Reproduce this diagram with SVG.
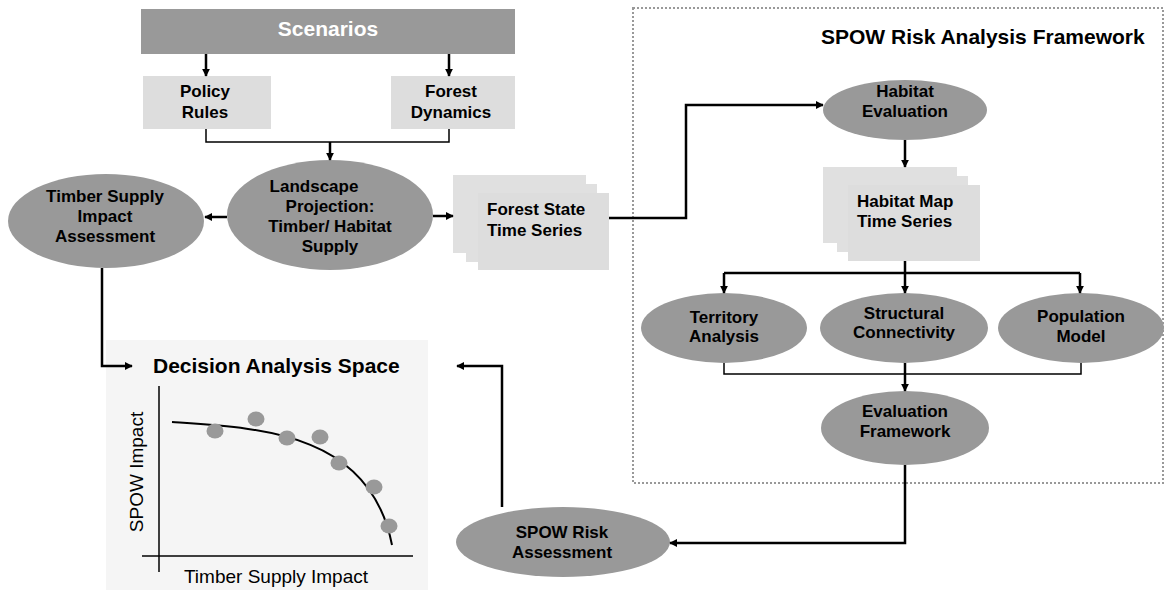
<svg xmlns="http://www.w3.org/2000/svg" width="1165" height="590" viewBox="0 0 1165 590">
<defs>
<marker id="ah" viewBox="0 0 10 10" refX="9" refY="5" markerWidth="3.2" markerHeight="3.2" orient="auto" markerUnits="strokeWidth">
<path d="M0,0 L10,5 L0,10 z" fill="#000"/>
</marker>
<style>
.t{font-family:"Liberation Sans",Arial,sans-serif;font-weight:bold;font-size:17px;fill:#000;text-anchor:middle}
.tl{font-family:"Liberation Sans",Arial,sans-serif;font-weight:bold;font-size:17px;fill:#000}
.ell{fill:#999999}
.box{fill:#dddddd}
.stk{fill:#e0e0e0}
.c{fill:none;stroke:#000;stroke-width:2.5}
.ca{fill:none;stroke:#000;stroke-width:2.5;marker-end:url(#ah)}
.thin{fill:none;stroke:#000;stroke-width:1.5}
.dot{fill:#999999}
.ax{fill:none;stroke:#000;stroke-width:1.5}
.lab{font-family:"Liberation Sans",Arial,sans-serif;font-size:19px;fill:#000;text-anchor:middle}
</style>
</defs>
<rect x="0" y="0" width="1165" height="590" fill="#fff"/>

<g id="frame">
<rect x="633" y="8" width="530" height="475" fill="none" stroke="#999" stroke-width="2" stroke-dasharray="2,2"/>
<text class="tl" x="821" y="44" style="font-size:21px">SPOW Risk Analysis Framework</text>
</g>

<g id="scenarios">
<rect x="141" y="9" width="374" height="45" fill="#999999"/>
<text class="t" x="328" y="36" style="font-size:21px;fill:#fff">Scenarios</text>
</g>
<g id="policy-rules">
<rect class="box" x="143" y="76" width="128" height="53"/>
<text class="t" x="205" y="97">Policy</text>
<text class="t" x="205" y="118">Rules</text>
</g>
<g id="forest-dynamics">
<rect class="box" x="391" y="76" width="124" height="53"/>
<text class="t" x="451" y="97">Forest</text>
<text class="t" x="451" y="118">Dynamics</text>
</g>
<g id="landscape-projection">
<ellipse class="ell" cx="330" cy="215" rx="103" ry="55"/>
<text class="t" x="314" y="192">Landscape</text>
<text class="t" x="330" y="212">Projection:</text>
<text class="t" x="330" y="232">Timber/ Habitat</text>
<text class="t" x="330" y="252">Supply</text>
</g>
<g id="timber-supply-impact">
<ellipse class="ell" cx="106" cy="221" rx="98" ry="47"/>
<text class="t" x="105" y="202">Timber Supply</text>
<text class="t" x="105" y="222">Impact</text>
<text class="t" x="105" y="242">Assessment</text>
</g>
<g id="forest-state">
<rect class="stk" x="453" y="175" width="133" height="78"/>
<rect class="stk" x="466" y="184" width="131" height="78"/>
<rect class="box" x="478" y="193" width="131" height="77"/>
<text class="tl" x="487" y="215">Forest State</text>
<text class="tl" x="487" y="236">Time Series</text>
</g>
<g id="habitat-evaluation">
<ellipse class="ell" cx="905" cy="110" rx="82" ry="30"/>
<text class="t" x="905" y="97">Habitat</text>
<text class="t" x="905" y="117">Evaluation</text>
</g>
<g id="habitat-map">
<rect class="stk" x="823" y="167" width="134" height="76"/>
<rect class="stk" x="837" y="176" width="131" height="76"/>
<rect class="box" x="848" y="185" width="132" height="76"/>
<text class="tl" x="857" y="207">Habitat Map</text>
<text class="tl" x="857" y="227">Time Series</text>
</g>
<g id="territory-analysis">
<ellipse class="ell" cx="724" cy="328" rx="83" ry="35"/>
<text class="t" x="724" y="323">Territory</text>
<text class="t" x="724" y="342">Analysis</text>
</g>
<g id="structural-connectivity">
<ellipse class="ell" cx="904" cy="328" rx="84" ry="35"/>
<text class="t" x="904" y="319">Structural</text>
<text class="t" x="904" y="338">Connectivity</text>
</g>
<g id="population-model">
<ellipse class="ell" cx="1081" cy="328" rx="83" ry="35"/>
<text class="t" x="1081" y="322">Population</text>
<text class="t" x="1081" y="342">Model</text>
</g>
<g id="evaluation-framework">
<ellipse class="ell" cx="905" cy="428" rx="84" ry="37"/>
<text class="t" x="905" y="417">Evaluation</text>
<text class="t" x="905" y="437">Framework</text>
</g>
<g id="spow-risk-assessment">
<ellipse class="ell" cx="563" cy="542" rx="107" ry="35"/>
<text class="t" x="562" y="538">SPOW Risk</text>
<text class="t" x="562" y="558">Assessment</text>
</g>
<g id="decision-analysis-space">
<rect x="106" y="340" width="322" height="250" fill="#f5f5f5"/>
<text class="tl" x="153" y="373" style="font-size:21px">Decision Analysis Space</text>
<line class="ax" x1="159" y1="386" x2="159" y2="572"/>
<line class="ax" x1="142" y1="556" x2="413" y2="556"/>
<path d="M172,422 C260,428 370,432 392,545" fill="none" stroke="#000" stroke-width="2"/>
<ellipse class="dot" cx="215" cy="431" rx="8.5" ry="7.5"/>
<ellipse class="dot" cx="256" cy="419" rx="8.5" ry="7.5"/>
<ellipse class="dot" cx="287" cy="438" rx="8.5" ry="7.5"/>
<ellipse class="dot" cx="320" cy="437" rx="8.5" ry="7.5"/>
<ellipse class="dot" cx="339" cy="463" rx="8.5" ry="7.5"/>
<ellipse class="dot" cx="374" cy="487" rx="8.5" ry="7.5"/>
<ellipse class="dot" cx="389" cy="526" rx="8.5" ry="7.5"/>
<text class="lab" x="276" y="583">Timber Supply Impact</text>
<text class="lab" transform="translate(143,472) rotate(-90)">SPOW Impact</text>
</g>

<g id="connectors">
<line class="ca" x1="206" y1="54" x2="206" y2="76"/>
<line class="ca" x1="449" y1="54" x2="449" y2="76"/>
<path class="thin" d="M206,129 V142 H449 V129"/>
<line class="ca" x1="330" y1="142" x2="330" y2="160"/>
<line class="ca" x1="227" y1="217" x2="205" y2="217"/>
<line class="ca" x1="433" y1="216" x2="453" y2="216"/>
<path class="ca" d="M609,218 H686 V105 H823"/>
<line class="ca" x1="905" y1="140" x2="905" y2="167"/>
<path class="c" d="M905,261 V273"/>
<path class="c" d="M724,273 H1080"/>
<line class="ca" x1="724" y1="273" x2="724" y2="293"/>
<line class="ca" x1="905" y1="273" x2="905" y2="293"/>
<line class="ca" x1="1080" y1="273" x2="1080" y2="293"/>
<path class="thin" d="M724,363 V374 H1081 V363"/>
<line class="ca" x1="905" y1="363" x2="905" y2="391"/>
<path class="ca" d="M905,465 V543 H670"/>
<path class="ca" d="M502,507 V366 H457"/>
<path class="ca" d="M102,268 V366 H132"/>
</g>
</svg>
